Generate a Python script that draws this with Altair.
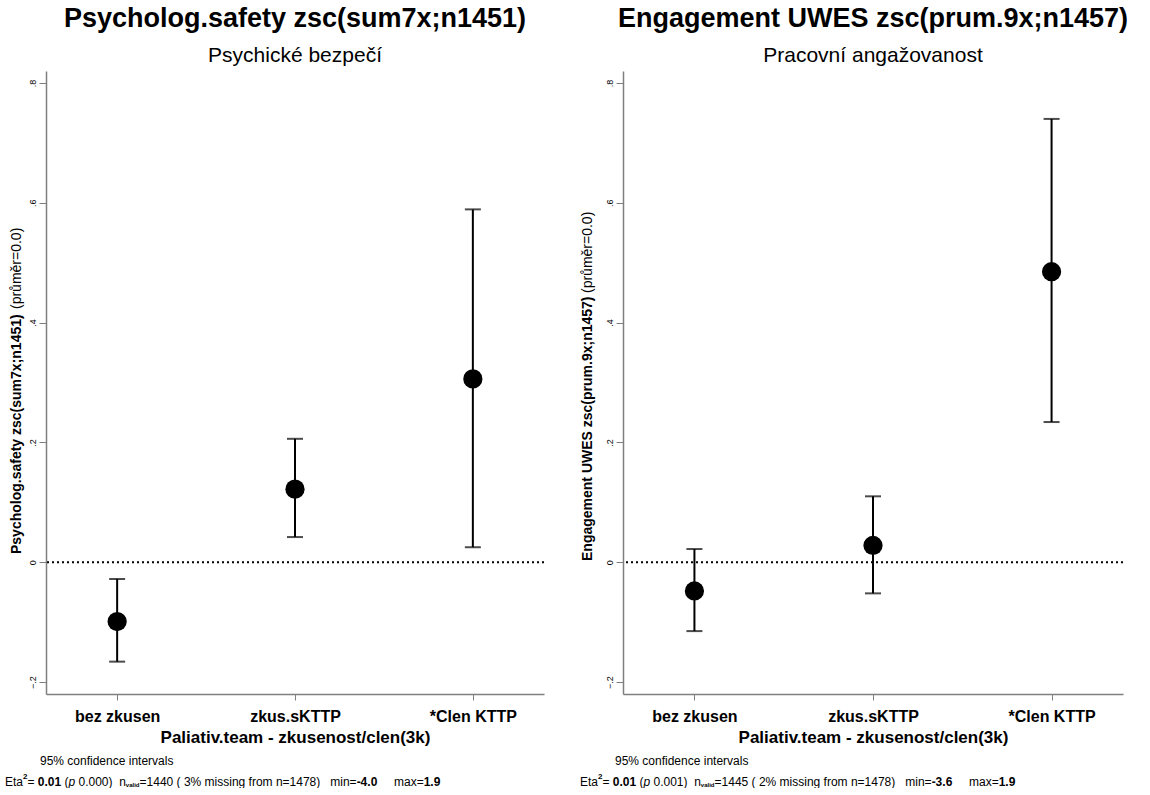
import altair as alt
import pandas as pd

categories = ["bez zkusen", "zkus.sKTTP", "*Clen KTTP"]

psy_mean = [-0.099, 0.122, 0.306]
psy_lo = [-0.166, 0.042, 0.025]
psy_hi = [-0.028, 0.206, 0.589]

eng_mean = [-0.048, 0.028, 0.485]
eng_lo = [-0.115, -0.052, 0.234]
eng_hi = [0.022, 0.110, 0.740]

y_ticks = [-0.2, 0, 0.2, 0.4, 0.6, 0.8]

x_title = "Paliativ.team - zkusenost/clen(3k)"
ci_note = "95% confidence intervals"

psy_title = "Psycholog.safety zsc(sum7x;n1451)"
psy_sub = "Psychické bezpečí"
eng_title = "Engagement UWES zsc(prum.9x;n1457)"
eng_sub = "Pracovní angažovanost"
mean_note = "(průměr=0.0)"

psy_stats = ["0.000)", "=1440", "( 3% missing from n=1478)", "-4.0", "1.9"]
eng_stats = ["0.001)", "=1445", "( 2% missing from n=1478)", "-3.6", "1.9"]

FONT = "Liberation Sans"

# approximate Arial / Liberation Sans advance widths (per 1000 em)
REG = {" ": 278, "0": 556, "1": 556, "2": 556, "3": 556, "4": 556, "5": 556, "6": 556,
       "7": 556, "8": 556, "9": 556, ".": 278, "(": 333, ")": 333, "=": 584, "%": 889,
       "-": 333, "E": 667, "t": 278, "a": 556, "p": 556, "n": 556, "m": 833, "i": 222,
       "s": 500, "g": 556, "f": 278, "r": 333, "o": 556, "x": 500, "v": 500, "l": 222,
       "d": 556}
BOLD = {" ": 278, ".": 278, "-": 333, "(": 333, ")": 333, "=": 584, "%": 889,
        "a": 556, "v": 556, "l": 278, "i": 278, "d": 611}


def text_width(t, size, weight):
    tbl = BOLD if weight == "bold" else REG
    return sum(tbl.get(c, REG.get(c, 556)) for c in t) * size / 1000.0


def footer_runs(stats):
    # (text, weight, style, size, dy); pure-space tokens only advance the pen
    return [
        ("Eta", "normal", "normal", 12, 0),
        ("2", "bold", "normal", 8, -5),
        ("=", "normal", "normal", 12, 0),
        (" ", None, None, 12, 0),
        ("0.01", "bold", "normal", 12, 0),
        (" ", None, None, 12, 0),
        ("(", "normal", "normal", 12, 0),
        ("p", "normal", "italic", 12, 0),
        (" ", None, None, 12, 0),
        (stats[0], "normal", "normal", 12, 0),
        ("  ", None, None, 12, 0),
        ("n", "normal", "normal", 12, 0),
        ("valid", "bold", "normal", 6, 3),
        (stats[1], "normal", "normal", 12, 0),
        (" ", None, None, 12, 0),
        (stats[2], "normal", "normal", 12, 0),
        ("   ", None, None, 12, 0),
        ("min=", "normal", "normal", 12, 0),
        (stats[3], "bold", "normal", 12, 0),
        ("     ", None, None, 12, 0),
        ("max=", "normal", "normal", 12, 0),
        (stats[4], "bold", "normal", 12, 0),
    ]


def panel(mean, lo, hi, title, subtitle, ytitle, stats, width, axis_off,
          ytitle_x, ytitle_y, note_y):
    height = 623
    df = pd.DataFrame({"cat": categories, "mean": mean, "lo": lo, "hi": hi})
    yscale = alt.Scale(domain=[-0.22, 0.82], nice=False, zero=False)
    X = alt.X(
        "cat:N",
        sort=categories,
        scale=alt.Scale(type="point", padding=0.4),
        axis=alt.Axis(
            title=x_title,
            labelAngle=0,
            labelFontSize=16,
            labelFontWeight="bold",
            labelFont=FONT,
            labelColor="black",
            labelPadding=8,
            tickSize=6,
            titleFontSize=17,
            titleFont=FONT,
            titleFontWeight="bold",
            titleColor="black",
            titlePadding=5,
        ),
    )
    yaxis = alt.Axis(
        values=y_ticks,
        labelExpr="datum.value == 0 ? '0' : replace(format(datum.value, '.1f'), '0.', '.')",
        labelAngle=270,
        labelAlign="center",
        labelBaseline="bottom",
        labelFontSize=9,
        labelFont=FONT,
        labelColor="black",
        labelPadding=2,
        tickSize=7,
        grid=False,
        title=None,
    )
    base = alt.Chart(df)
    zero = alt.Chart(pd.DataFrame({"z": [0]})).mark_rule(
        strokeDash=[2, 3], strokeWidth=2, color="black"
    ).encode(y=alt.Y("z:Q", scale=yscale, axis=yaxis))
    bars = base.mark_rule(strokeWidth=2, color="black").encode(
        x=X, y=alt.Y("lo:Q", scale=yscale, axis=yaxis), y2="hi:Q"
    )
    cap_lo = base.mark_tick(size=16, thickness=2, color="black", orient="horizontal").encode(
        x=X, y=alt.Y("lo:Q", scale=yscale, axis=yaxis)
    )
    cap_hi = base.mark_tick(size=16, thickness=2, color="black", orient="horizontal").encode(
        x=X, y=alt.Y("hi:Q", scale=yscale, axis=yaxis)
    )
    pts = base.mark_circle(size=370, color="black", opacity=1).encode(
        x=X, y=alt.Y("mean:Q", scale=yscale, axis=yaxis)
    )

    one = pd.DataFrame({"a": [0]})
    ytl = alt.Chart(one).mark_text(
        text=ytitle, angle=270, align="left", baseline="middle",
        font=FONT, fontSize=14, fontWeight="bold", color="black"
    ).encode(x=alt.value(ytitle_x), y=alt.value(ytitle_y))
    ytn = alt.Chart(one).mark_text(
        text=mean_note, angle=270, align="left", baseline="middle",
        font=FONT, fontSize=14, color="black"
    ).encode(x=alt.value(ytitle_x), y=alt.value(note_y))
    ci = alt.Chart(one).mark_text(
        text=ci_note, align="left", baseline="middle", font=FONT, fontSize=12, color="black"
    ).encode(x=alt.value(40 - axis_off), y=alt.value(690))

    layers = [zero, bars, cap_lo, cap_hi, pts, ytl, ytn, ci]
    pen = 5.0
    for txt, w, st, sz, dy in footer_runs(stats):
        adv = text_width(txt, sz, w)
        if w is not None:
            layers.append(
                alt.Chart(one).mark_text(
                    text=txt, align="left", baseline="middle", font=FONT, fontSize=sz,
                    fontWeight=w, fontStyle=st, color="black", dy=dy
                ).encode(x=alt.value(pen - axis_off), y=alt.value(711))
            )
        pen += adv

    return alt.layer(*layers).properties(
        width=width,
        height=height,
        title=alt.TitleParams(
            text=title,
            subtitle=subtitle,
            font=FONT,
            fontSize=27,
            fontWeight="bold",
            color="black",
            subtitleFont=FONT,
            subtitleFontSize=21,
            subtitleColor="black",
            subtitlePadding=12,
            anchor="middle",
            offset=4,
        ),
    )


left = panel(psy_mean, psy_lo, psy_hi, psy_title, psy_sub, psy_title, psy_stats,
             498, 46, -29, 483, 238)
right = panel(eng_mean, eng_lo, eng_hi, eng_title, eng_sub, eng_title, eng_stats,
              500, 48, -35, 490, 222)

chart = alt.hconcat(left, right, spacing=79, bounds="flush").properties(
    padding={"left": 5, "top": 5, "right": 0, "bottom": 0},
    background="white",
).configure_view(strokeWidth=0, stroke="transparent").configure_axis(
    domainColor="#7f7f7f", domainWidth=1.5, tickColor="#7f7f7f", tickWidth=1
)

chart.save("out.html", embed_options={"renderer": "svg", "actions": False})
